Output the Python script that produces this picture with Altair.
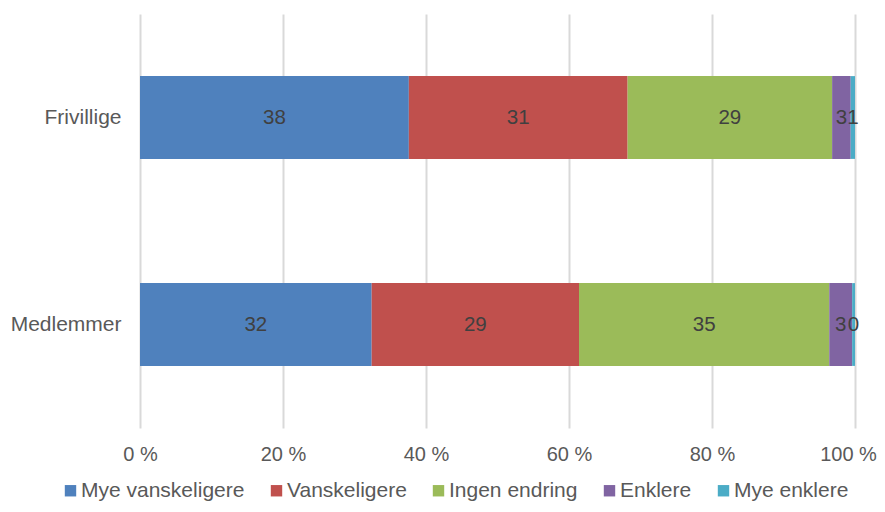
import altair as alt
import pandas as pd

groups = ["Frivillige", "Medlemmer"]
categories = ["Mye vanskeligere", "Vanskeligere", "Ingen endring", "Enklere", "Mye enklere"]
colors = ["#4F81BD", "#C0504D", "#9BBB59", "#8064A2", "#4BACC6"]
frivillige = [37.6, 30.6, 28.6, 2.6, 0.6]
medlemmer = [32.4, 29.0, 35.0, 3.2, 0.4]
x_ticks = [0, 20, 40, 60, 80, 100]

rows = []
for g, vals in zip(groups, [frivillige, medlemmer]):
    for i, (c, v) in enumerate(zip(categories, vals)):
        rows.append({"group": g, "cat": c, "order": i, "value": v})
df = pd.DataFrame(rows)

FONT = "Liberation Sans"

base = alt.Chart(df).transform_stack(
    stack="value", groupby=["group"], sort=[alt.SortField("order", "ascending")], as_=["v0", "v1"]
).transform_calculate(mid="(datum.v0 + datum.v1) / 2")

y = alt.Y("group:N", sort=groups, title=None,
          scale=alt.Scale(paddingInner=0.6, paddingOuter=0.3),
          axis=alt.Axis(domain=False, ticks=False, labelPadding=19, labelFontSize=21,
                        labelColor="#595959", labelFont=FONT, grid=False))

bars = base.mark_bar().encode(
    x=alt.X("v0:Q", title=None, scale=alt.Scale(domain=[0, 100], nice=False),
            axis=alt.Axis(values=x_ticks, labelExpr="datum.value + ' %'", domain=False, ticks=False,
                          tickSize=0, labelPadding=16, labelFontSize=20, labelColor="#595959",
                          labelFlush=False,
                          labelOffset={"condition": {"test": "datum.value == 100", "value": -7}, "value": 0},
                          labelFont=FONT, grid=True, gridColor="#d9d9d9", gridWidth=2)),
    x2="v1:Q",
    y=y,
    color=alt.Color("cat:N", sort=categories,
                    scale=alt.Scale(domain=categories, range=colors),
                    legend=alt.Legend(title=None, orient="none", direction="horizontal",
                                      legendX=-80, legendY=466, symbolType="square",
                                      symbolSize=130, symbolStrokeWidth=0, labelOffset=0,
                                      columnPadding=21, labelFontSize=21, labelColor="#595959",
                                      labelFont=FONT, labelLimit=400)),
)

text = base.mark_text(fontSize=20.5, color="#404040", font=FONT).encode(
    x=alt.X("mid:Q"),
    y=alt.Y("group:N", sort=groups),
    text=alt.Text("value:Q", format=".0f"),
)

chart = alt.layer(bars, text).properties(
    width=715, height=414,
    autosize=alt.AutoSizeParams(type="none"),
    padding={"left": 132, "top": 6, "right": 22, "bottom": 74},
).configure_view(stroke=None)

chart.save("out.html", embed_options={"renderer": "svg", "actions": False})
